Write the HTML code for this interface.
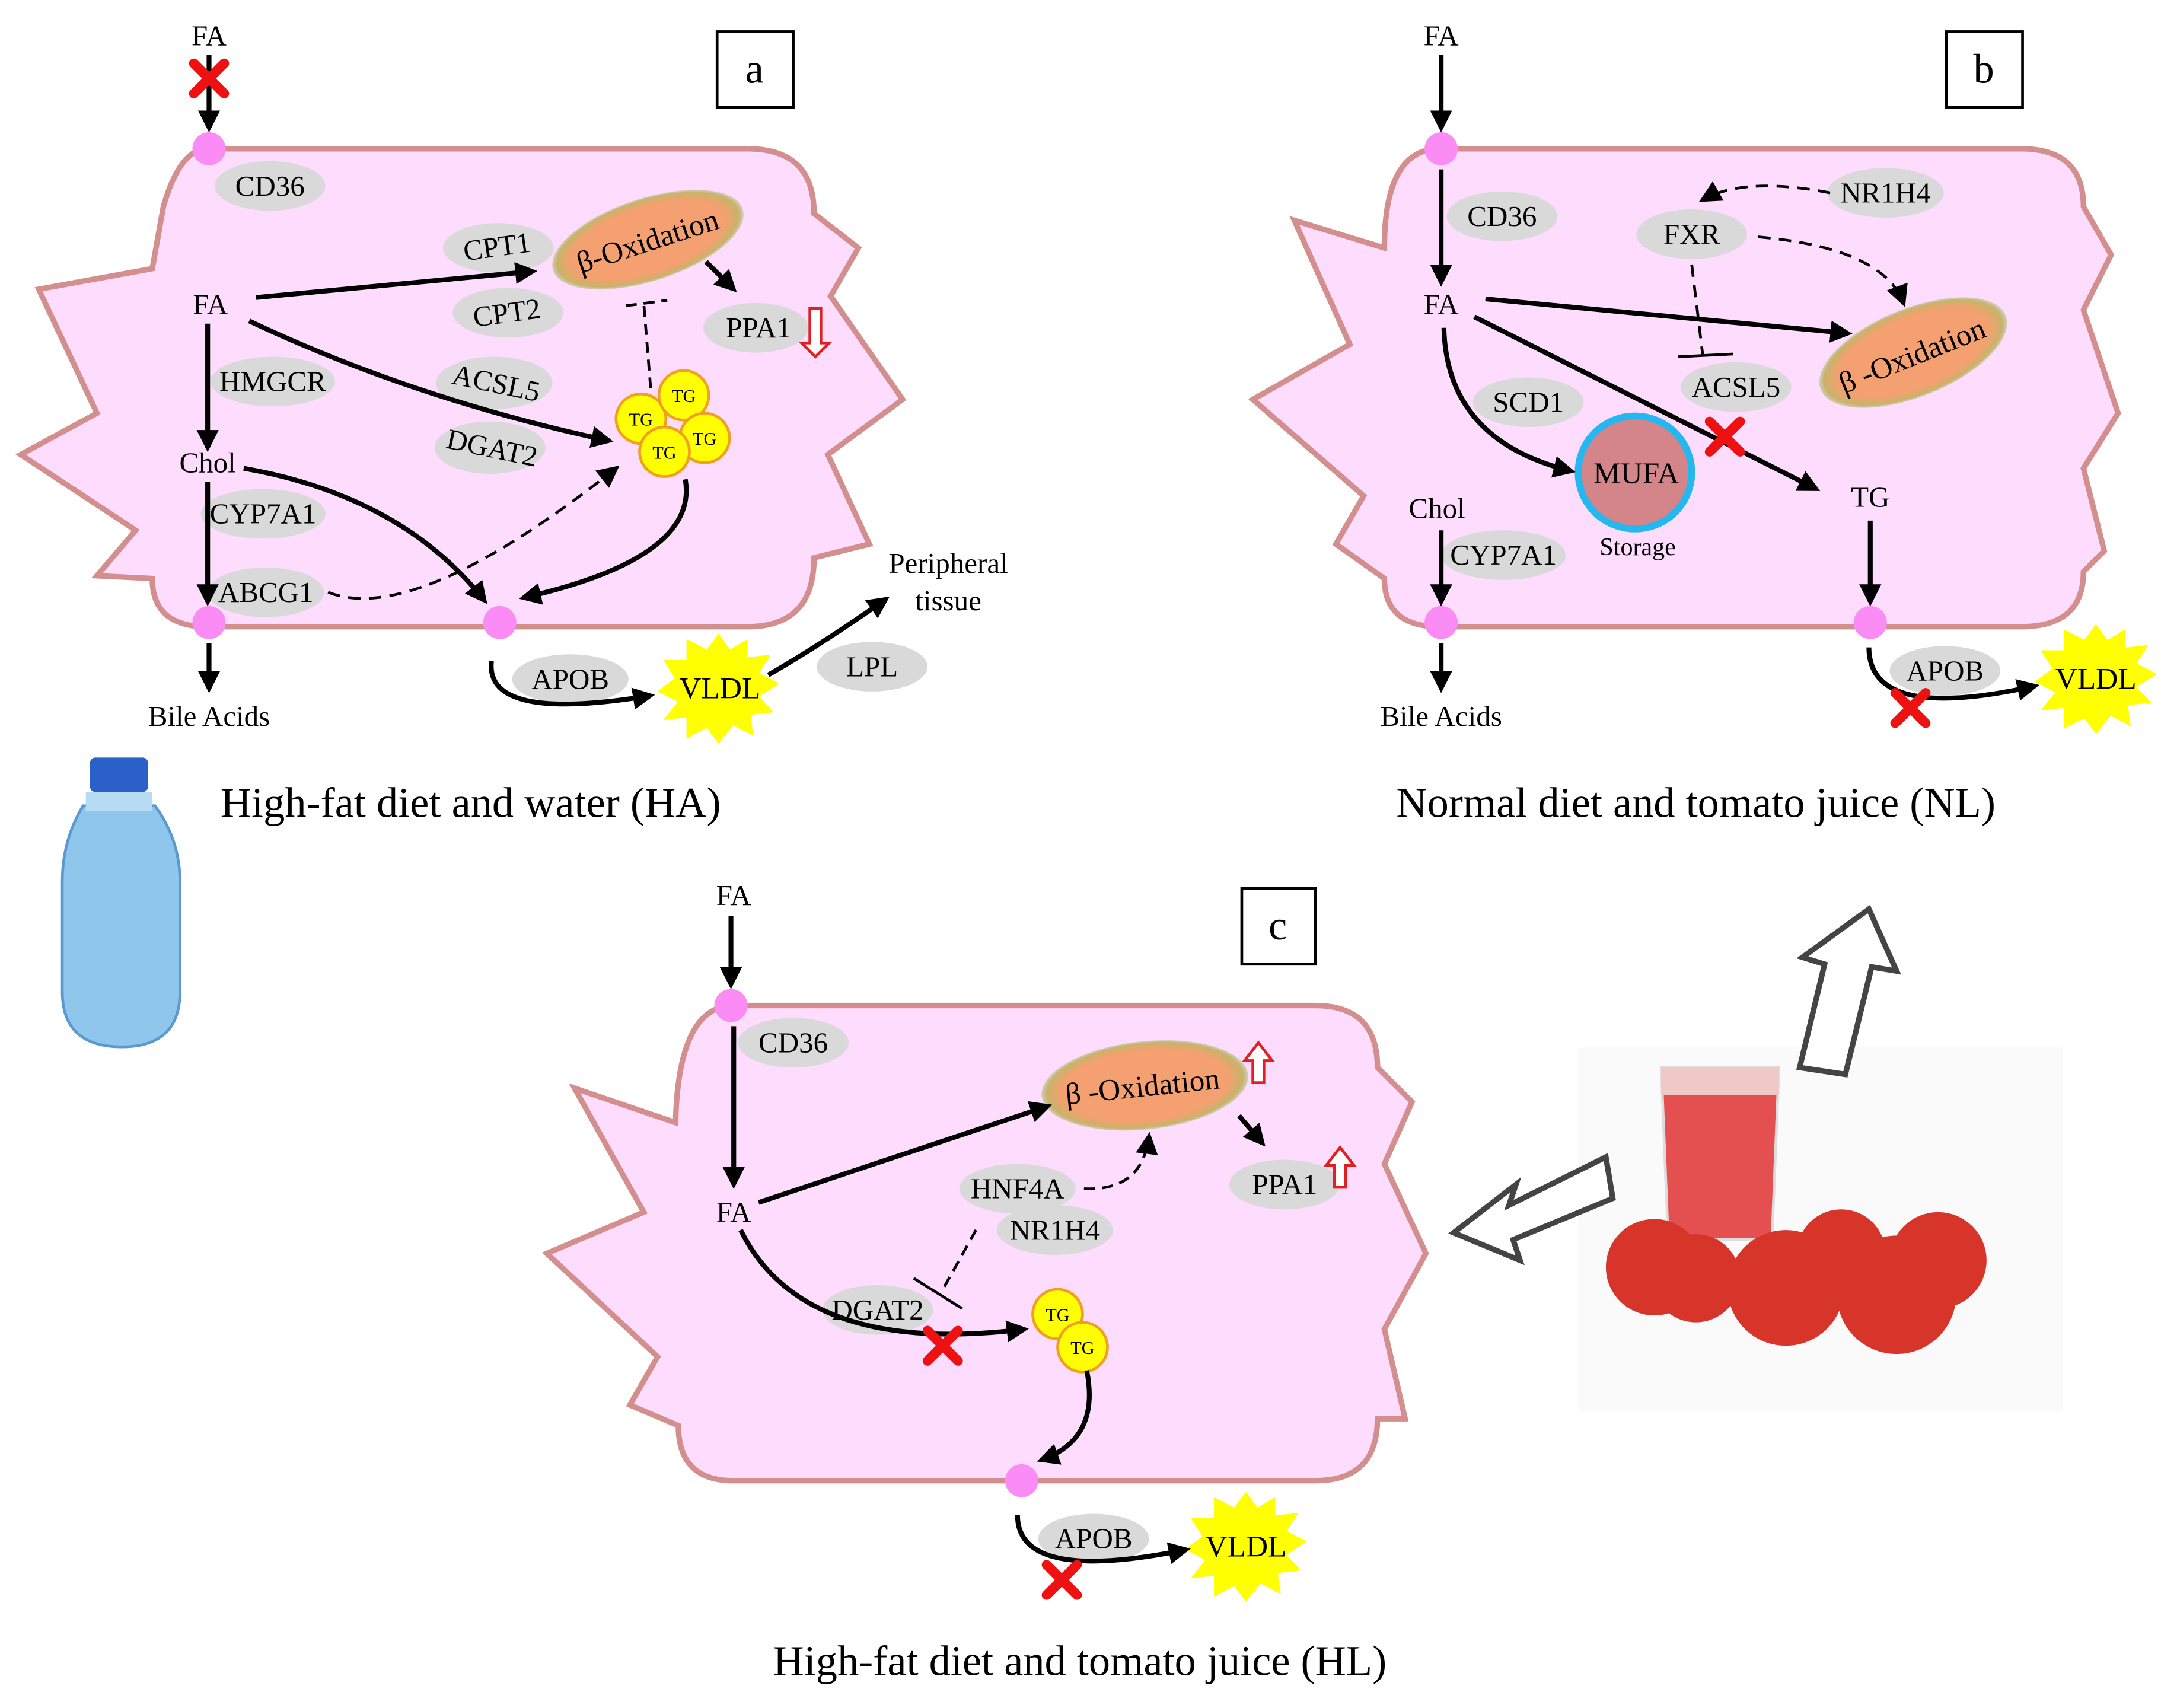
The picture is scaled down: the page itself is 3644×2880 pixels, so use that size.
<!DOCTYPE html>
<html><head><meta charset="utf-8"><style>
html,body{margin:0;padding:0;background:#fff;}
svg{display:block;}
text{font-family:"Liberation Serif",serif;}
</style></head><body>
<svg width="3644" height="2880" viewBox="0 0 1561 1240" preserveAspectRatio="none" xmlns="http://www.w3.org/2000/svg">
<defs>
<marker id="ah2" viewBox="0 0 10 10" markerWidth="16" markerHeight="16" refX="8" refY="5" orient="auto" markerUnits="userSpaceOnUse"><path d="M0,0 L10,5 L0,10 z" fill="#000"/></marker>
<radialGradient id="mito" cx="50%" cy="50%" r="50%"><stop offset="80%" stop-color="#f4a070"/><stop offset="95%" stop-color="#c9b36a"/><stop offset="100%" stop-color="#a7c07a" stop-opacity="0.5"/></radialGradient>
<g id="xmark"><path d="M-11,-11 L11,11 M11,-11 L-11,11" stroke="#ee1111" stroke-width="7" stroke-linecap="round"/></g>
<polygon id="star" points="0,-42 8,-30 20,-38 20,-24 36,-26 28,-12 42,-4 28,6 38,18 22,20 24,36 10,28 0,42 -8,30 -22,38 -22,22 -38,24 -28,10 -42,2 -30,-8 -38,-22 -22,-22 -22,-38 -8,-30" fill="#ffff00" transform="scale(1.05,0.95)"/>
</defs>
<rect width="1561" height="1240" fill="#fff"/>

<rect x="1140" y="760" width="350" height="265" fill="#fbfafa"/>

<path d="M150,108 H540 Q588,108 588,155 L620,180 L600,215 L652,290 L598,330 L628,395 L588,405 Q588,455 540,455 H150 Q110,455 110,420 L70,418 L98,385 L15,330 L70,300 L28,210 L110,195 L118,150 Q130,108 150,108 Z" fill="#fddcfd" stroke="#d38e8e" stroke-width="4"/>
<path d="M1040,108 H1460 Q1505,108 1505,150 L1525,185 L1505,225 L1530,300 L1505,340 L1520,400 L1505,415 Q1505,455 1460,455 H1040 Q1000,455 1000,420 L965,395 L985,360 L905,290 L975,250 L935,160 L1000,180 Q1000,108 1040,108 Z" fill="#fddcfd" stroke="#d38e8e" stroke-width="4"/>
<path d="M530,730 H950 Q995,730 995,775 L1020,800 L1000,845 L1030,910 L1000,965 L1015,1030 L995,1030 Q995,1075 950,1075 H530 Q490,1075 490,1035 L455,1020 L475,985 L395,910 L465,880 L415,790 L488,815 Q490,730 530,730 Z" fill="#fddcfd" stroke="#d38e8e" stroke-width="4"/>

<rect x="518" y="23" width="55" height="55" fill="#fff" stroke="#000" stroke-width="2"/><text x="545" y="60" font-size="30" text-anchor="middle">a</text>
<rect x="1406" y="23" width="55" height="55" fill="#fff" stroke="#000" stroke-width="2"/><text x="1433" y="60" font-size="30" text-anchor="middle">b</text>
<rect x="897" y="645" width="53" height="55" fill="#fff" stroke="#000" stroke-width="2"/><text x="923" y="682" font-size="30" text-anchor="middle">c</text>

<g fill="#d9d9d9">
<ellipse cx="195" cy="135" rx="40" ry="18"/>
<ellipse cx="360" cy="180" rx="40" ry="18"/>
<ellipse cx="367" cy="227" rx="40" ry="18"/>
<ellipse cx="546" cy="238" rx="38" ry="18"/>
<ellipse cx="197" cy="277" rx="45" ry="18"/>
<ellipse cx="357" cy="278" rx="42" ry="19"/>
<ellipse cx="354" cy="325" rx="40" ry="19"/>
<ellipse cx="190" cy="373" rx="45" ry="18"/>
<ellipse cx="192" cy="430" rx="42" ry="18"/>
<ellipse cx="412" cy="493" rx="42" ry="18"/>
<ellipse cx="630" cy="484" rx="40" ry="18"/>
<ellipse cx="1085" cy="157" rx="40" ry="18"/>
<ellipse cx="1362" cy="140" rx="42" ry="18"/>
<ellipse cx="1222" cy="170" rx="40" ry="18"/>
<ellipse cx="1104" cy="292" rx="40" ry="18"/>
<ellipse cx="1254" cy="281" rx="40" ry="18"/>
<ellipse cx="1086" cy="403" rx="45" ry="18"/>
<ellipse cx="1405" cy="487" rx="40" ry="18"/>
<ellipse cx="573" cy="757" rx="40" ry="18"/>
<ellipse cx="735" cy="863" rx="42" ry="18"/>
<ellipse cx="762" cy="893" rx="42" ry="18"/>
<ellipse cx="928" cy="860" rx="40" ry="18"/>
<ellipse cx="634" cy="951" rx="40" ry="18"/>
<ellipse cx="790" cy="1117" rx="40" ry="18"/>
</g>

<ellipse cx="468" cy="174" rx="72" ry="30" transform="rotate(-18 468 174)" fill="url(#mito)"/>
<ellipse cx="1382" cy="256" rx="72" ry="32" transform="rotate(-22 1382 256)" fill="url(#mito)"/>
<ellipse cx="827" cy="788" rx="75" ry="32" transform="rotate(-6 827 788)" fill="url(#mito)"/>

<circle cx="1181" cy="343" r="41" fill="#d4858a" stroke="#25b7ef" stroke-width="5"/>

<g fill="#ffff00" stroke="#f0a020" stroke-width="2">
<circle cx="463" cy="304" r="18"/><circle cx="494" cy="287" r="18"/><circle cx="509" cy="318" r="18"/><circle cx="480" cy="328" r="18"/>
<circle cx="764" cy="954" r="18"/><circle cx="782" cy="978" r="18"/>
</g>

<g fill="#fb8cf6">
<circle cx="151" cy="108" r="12"/><circle cx="151" cy="452" r="12"/><circle cx="361" cy="452" r="12"/>
<circle cx="1041" cy="108" r="12"/><circle cx="1041" cy="452" r="12"/><circle cx="1351" cy="452" r="12"/>
<circle cx="528" cy="730" r="12"/><circle cx="738" cy="1075" r="12"/>
</g>

<use href="#star" x="519" y="500"/>
<use href="#star" x="1514" y="493"/>
<use href="#star" x="900" y="1123"/>

<g stroke="#000" stroke-width="3.5" fill="none" marker-end="url(#ah2)">
<line x1="151" y1="40" x2="151" y2="93"/>
<line x1="185" y1="216" x2="385" y2="197"/>
<line x1="510" y1="190" x2="530" y2="210"/>
<path d="M180,233 Q300,290 440,320"/>
<line x1="150" y1="235" x2="150" y2="325"/>
<line x1="150" y1="350" x2="150" y2="437"/>
<path d="M176,340 Q290,360 350,436"/>
<path d="M495,348 Q505,405 378,434"/>
<path d="M355,480 Q350,525 470,505"/>
<path d="M555,490 Q590,470 640,435"/>
<line x1="151" y1="467" x2="151" y2="500"/>
</g>
<path d="M237,430 Q300,455 445,340" stroke="#000" stroke-width="2" stroke-dasharray="9,6" fill="none" marker-end="url(#ah2)"/>
<path d="M470,282 L465,220 M452,222 L482,218" stroke="#000" stroke-width="2" stroke-dasharray="8,5" fill="none"/>
<use href="#xmark" x="151" y="57"/>

<g stroke="#000" stroke-width="3.5" fill="none" marker-end="url(#ah2)">
<line x1="1041" y1="40" x2="1041" y2="93"/>
<line x1="1041" y1="123" x2="1041" y2="205"/>
<line x1="1073" y1="217" x2="1335" y2="242"/>
<path d="M1065,230 L1312,355"/>
<path d="M1043,238 Q1045,320 1135,342"/>
<line x1="1041" y1="385" x2="1041" y2="437"/>
<line x1="1351" y1="378" x2="1351" y2="437"/>
<line x1="1041" y1="467" x2="1041" y2="500"/>
<path d="M1350,470 Q1350,525 1470,498"/>
</g>
<g stroke="#000" stroke-width="2" stroke-dasharray="9,6" fill="none">
<path d="M1322,140 Q1260,128 1230,145" marker-end="url(#ah2)"/>
<path d="M1270,172 Q1360,180 1375,220" marker-end="url(#ah2)"/>
<path d="M1222,192 L1230,258"/>
</g>
<line x1="1212" y1="259" x2="1252" y2="257" stroke="#000" stroke-width="2"/>
<use href="#xmark" x="1246" y="317"/>
<use href="#xmark" x="1380" y="514"/>

<g stroke="#000" stroke-width="3.5" fill="none" marker-end="url(#ah2)">
<line x1="528" y1="665" x2="528" y2="715"/>
<line x1="530" y1="745" x2="530" y2="860"/>
<line x1="548" y1="873" x2="757" y2="803"/>
<line x1="895" y1="810" x2="912" y2="830"/>
<path d="M535,893 Q580,985 740,965"/>
<path d="M785,995 Q795,1045 752,1060"/>
<path d="M735,1100 Q735,1150 857,1125"/>
</g>
<path d="M783,863 Q825,865 830,825" stroke="#000" stroke-width="2" stroke-dasharray="8,5" fill="none" marker-end="url(#ah2)"/>
<path d="M705,893 L680,938" stroke="#000" stroke-width="2" stroke-dasharray="8,5" fill="none"/>
<line x1="660" y1="928" x2="695" y2="950" stroke="#000" stroke-width="2"/>
<use href="#xmark" x="681" y="977"/>
<use href="#xmark" x="767" y="1147"/>

<g fill="#fff" stroke="#e02020" stroke-width="2">
<path d="M585,224 h8 v25 h6 l-10,10 l-10,-10 h6 z"/>
<path d="M909,787 l-10,-13 h6 v-16 h8 v16 h6 z" transform="rotate(180 909 772)"/>
<path d="M968,863 l-10,-13 h6 v-16 h8 v16 h6 z" transform="rotate(180 968 848)"/>
</g>

<path d="M1300,775 L1318,700 L1302,695 L1350,660 L1370,705 L1352,702 L1333,780 Z" fill="#fff" stroke="#444" stroke-width="4"/>
<path d="M1160,840 L1090,875 L1095,860 L1050,895 L1098,915 L1093,900 L1165,870 Z" fill="#fff" stroke="#444" stroke-width="4"/>

<rect x="65" y="550" width="42" height="25" rx="4" fill="#2a60c8"/>
<path d="M60,585 Q45,610 45,640 L45,720 Q45,760 88,760 Q130,760 130,720 L130,640 Q130,610 112,585 Z" fill="#8fc6ec" stroke="#5a9ad0" stroke-width="2"/>
<rect x="62" y="575" width="48" height="14" fill="#b7dbf3"/>

<path d="M1200,775 L1285,775 L1280,900 L1205,900 Z" fill="#e45050" stroke="#ddd" stroke-width="2"/>
<rect x="1200" y="775" width="85" height="20" fill="#f1c8c8"/>
<g fill="#d8352a">
<circle cx="1195" cy="920" r="35"/><circle cx="1225" cy="928" r="32"/><circle cx="1290" cy="935" r="42"/><circle cx="1370" cy="940" r="43"/><circle cx="1400" cy="915" r="35"/><circle cx="1330" cy="910" r="32"/>
</g>

<g font-size="21" text-anchor="middle" fill="#000">
<text x="151" y="33">FA</text>
<text x="195" y="142">CD36</text>
<text x="360" y="186" transform="rotate(-8 360 186)">CPT1</text>
<text x="367" y="234" transform="rotate(-8 367 234)">CPT2</text>
<text x="470" y="182" transform="rotate(-18 470 182)" font-size="22">β-Oxidation</text>
<text x="548" y="245">PPA1</text>
<text x="152" y="228">FA</text>
<text x="197" y="284">HMGCR</text>
<text x="357" y="285" transform="rotate(12 357 285)">ACSL5</text>
<text x="354" y="332" transform="rotate(12 354 332)">DGAT2</text>
<text x="150" y="343">Chol</text>
<text x="190" y="380">CYP7A1</text>
<text x="192" y="437">ABCG1</text>
<text x="151" y="527">Bile Acids</text>
<text x="412" y="500">APOB</text>
<text x="520" y="507" font-size="22">VLDL</text>
<text x="630" y="491">LPL</text>
<text x="685" y="416">Peripheral</text>
<text x="685" y="443">tissue</text>
<text x="340" y="593" font-size="31">High-fat diet and  water (HA)</text>

<text x="1041" y="33">FA</text>
<text x="1085" y="164">CD36</text>
<text x="1362" y="147">NR1H4</text>
<text x="1222" y="177">FXR</text>
<text x="1041" y="228">FA</text>
<text x="1384" y="265" transform="rotate(-22 1384 265)" font-size="22">β -Oxidation</text>
<text x="1104" y="299">SCD1</text>
<text x="1254" y="288">ACSL5</text>
<text x="1182" y="351" font-size="22">MUFA</text>
<text x="1183" y="403" font-size="18">Storage</text>
<text x="1038" y="376">Chol</text>
<text x="1086" y="410">CYP7A1</text>
<text x="1351" y="368">TG</text>
<text x="1041" y="527">Bile Acids</text>
<text x="1405" y="494">APOB</text>
<text x="1514" y="500" font-size="22">VLDL</text>
<text x="1225" y="593" font-size="31">Normal diet and  tomato juice (NL)</text>

<text x="530" y="657">FA</text>
<text x="573" y="764">CD36</text>
<text x="826" y="796" transform="rotate(-6 826 796)" font-size="22">β -Oxidation</text>
<text x="530" y="887">FA</text>
<text x="735" y="870">HNF4A</text>
<text x="762" y="900">NR1H4</text>
<text x="928" y="867">PPA1</text>
<text x="634" y="958">DGAT2</text>
<text x="790" y="1124">APOB</text>
<text x="900" y="1130" font-size="22">VLDL</text>
<text x="780" y="1216" font-size="31">High-fat diet and tomato juice (HL)</text>
</g>
<g font-size="13" text-anchor="middle">
<text x="463" y="309">TG</text><text x="494" y="292">TG</text><text x="509" y="323">TG</text><text x="480" y="333">TG</text>
<text x="764" y="959">TG</text><text x="782" y="983">TG</text>
</g>
</svg>
</body></html>
